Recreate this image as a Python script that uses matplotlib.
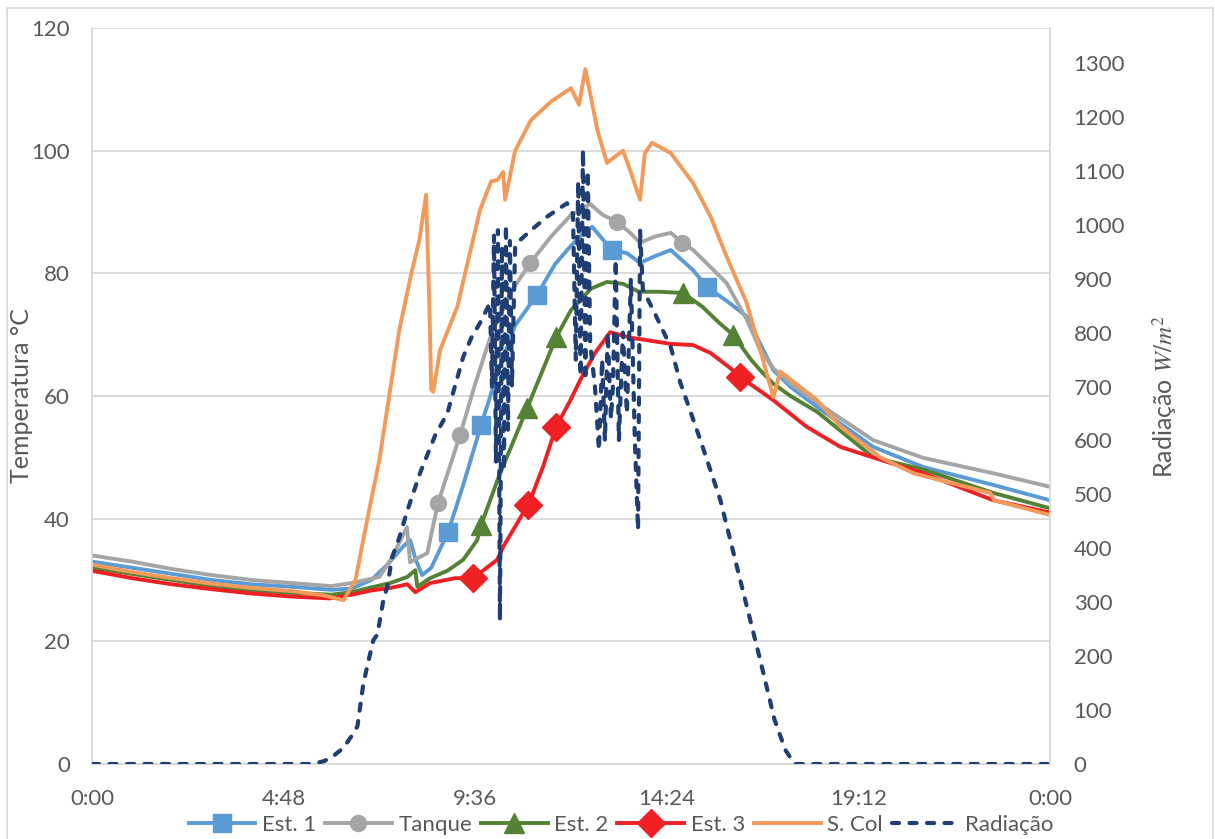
import numpy as np
import matplotlib
matplotlib.use("Agg")
import matplotlib.pyplot as plt
from matplotlib.patches import Rectangle

plt.rcParams['font.family'] = ['Lato', 'DejaVu Sans']
plt.rcParams['mathtext.fontset'] = 'stix'

# Data (hours of the day, temperature in °C, radiation in W/m2)
est1_h = [0, 1, 2, 3, 4, 5, 6, 6.5, 7.0, 7.4, 7.8, 7.97, 8.1, 8.27, 8.5, 8.92, 9.3, 9.75,
          10.2, 10.6, 11.15, 11.6, 12.0, 12.3, 12.53, 12.8, 13.03, 13.4, 13.73, 14.1, 14.5,
          15.06, 15.4, 15.9, 16.4, 16.74, 17.07, 17.5, 18.17, 19.57, 20.83, 22.58, 24]
est1_t = [33.0, 32.0, 31.0, 30.0, 29.3, 28.9, 28.4, 28.6, 30.0, 32.5, 35.5, 36.5, 33.5, 30.8,
          32.0, 37.8, 45.5, 55.3, 64.5, 71.5, 76.5, 81.5, 84.5, 86.5, 87.6, 85.5, 83.8, 83.3,
          81.7, 82.8, 83.8, 80.5, 77.8, 75.5, 73.0, 68.5, 64.2, 61.5, 58.2, 51.7, 48.4, 45.5, 43.0]
est1_mk = [8.92, 9.75, 11.15, 13.03, 15.4]

tanque_h = [0, 1, 2, 3, 4, 5, 6, 6.5, 7.0, 7.2, 7.5, 7.89, 7.97, 8.4, 8.67, 9.22, 9.6, 10.0,
            10.5, 10.98, 11.5, 12.0, 12.48, 12.8, 13.16, 13.5, 13.73, 14.1, 14.5, 14.79, 15.06,
            15.5, 15.9, 16.4, 16.74, 17.07, 17.5, 18.17, 19.57, 20.83, 22.58, 24]
tanque_t = [34.0, 33.0, 31.8, 30.8, 30.0, 29.5, 29.0, 29.5, 30.2, 30.5, 33.5, 38.6, 32.9, 34.4,
            42.6, 53.6, 62.0, 70.0, 77.0, 81.7, 86.0, 89.5, 91.3, 89.5, 88.4, 86.5, 85.0, 86.0,
            86.6, 85.0, 83.8, 81.0, 78.4, 72.5, 67.5, 64.5, 62.0, 58.9, 52.8, 49.9, 47.4, 45.2]
tanque_mk = [8.67, 9.22, 10.98, 13.16, 14.79]

est2_h = [0, 1, 2, 3, 4, 5, 6, 6.5, 7.0, 7.47, 7.9, 8.1, 8.15, 8.47, 8.9, 9.3, 9.65, 9.75,
          10.2, 10.9, 11.63, 12.0, 12.5, 12.9, 13.3, 13.7, 14.2, 14.81, 15.3, 15.7, 16.06,
          16.5, 16.74, 17.07, 17.5, 18.17, 19.57, 20.83, 22.58, 24]
est2_t = [32.0, 31.0, 30.0, 29.0, 28.3, 27.9, 27.6, 28.0, 28.8, 29.5, 30.5, 31.6, 28.9, 30.3,
          31.5, 33.3, 36.5, 39.0, 47.0, 58.0, 69.6, 74.0, 77.5, 78.6, 78.3, 77.0, 77.0, 76.8,
          74.5, 72.0, 70.0, 66.0, 64.2, 62.0, 60.0, 57.4, 50.0, 48.0, 44.2, 41.7]
est2_mk = [9.75, 10.9, 11.63, 14.81, 16.06]

est3_h = [0, 1, 2, 3, 4, 5, 5.96, 6.5, 7.0, 7.47, 7.9, 8.1, 8.47, 9.1, 9.55, 10.15, 10.3,
          10.8, 10.93, 11.3, 11.63, 12.0, 12.23, 12.6, 12.98, 13.5, 14.0, 14.5, 15.06, 15.5,
          16.0, 16.24, 16.7, 17.07, 17.9, 18.75, 19.75, 20.83, 22.58, 24]
est3_t = [31.5, 30.3, 29.3, 28.5, 27.8, 27.3, 27.0, 27.6, 28.3, 28.7, 29.3, 28.0, 29.5, 30.3,
          30.3, 33.3, 35.4, 40.9, 42.2, 48.5, 55.0, 59.5, 62.6, 67.0, 70.4, 69.5, 69.0, 68.5,
          68.3, 67.0, 64.5, 63.1, 61.0, 59.3, 55.0, 51.7, 49.6, 47.4, 43.0, 41.0]
est3_mk = [9.55, 10.93, 11.63, 16.24]

scol_h = [0, 1, 2, 3, 4, 5, 5.8, 6.3, 6.6, 6.9, 7.2, 7.7, 8.0, 8.2, 8.37, 8.45, 8.5, 8.55,
          8.72, 9.15, 9.72, 10.0, 10.15, 10.3, 10.35, 10.6, 11.0, 11.5, 12.0, 12.2, 12.36,
          12.66, 12.9, 13.3, 13.45, 13.73, 13.85, 14.03, 14.5, 15.06, 15.5, 15.9, 16.4, 16.74,
          17.07, 17.24, 18.17, 18.75, 19.75, 20.58, 22.5, 22.6, 24]
scol_t = [32.5, 31.3, 30.3, 29.4, 28.7, 28.2, 27.5, 26.7, 30.0, 40.0, 49.6, 70.8, 80.0, 85.4,
          92.8, 75.0, 61.0, 60.7, 67.5, 74.5, 90.3, 95.0, 95.2, 96.5, 92.0, 100.0, 105.0, 108.0,
          110.2, 107.5, 113.3, 103.4, 98.0, 100.0, 97.4, 92.0, 99.6, 101.3, 99.6, 94.7, 89.2,
          82.7, 75.2, 67.5, 59.8, 64.0, 59.3, 55.0, 50.0, 47.4, 44.2, 43.0, 40.6]

rad_h = [0, 5.5, 5.8, 6.0, 6.3, 6.55, 6.65, 6.8, 6.97, 7.05, 7.15, 7.3, 7.4, 7.52, 7.7, 7.9,
         8.22, 8.6, 8.9, 9.3, 9.5, 9.72, 9.97, 10.02, 10.07, 10.12, 10.17, 10.22, 10.27, 10.32,
         10.37, 10.42, 10.47, 10.52, 10.6, 10.73, 11.0, 11.4, 11.7, 11.9, 12.05, 12.12, 12.18,
         12.24, 12.3, 12.36, 12.42, 12.48, 12.6, 12.7, 12.78, 12.85, 12.92, 13.0, 13.05, 13.12,
         13.2, 13.3, 13.4, 13.5, 13.6, 13.68, 13.73, 13.8, 14.06, 14.5, 14.74, 15.24, 15.74,
         16.24, 16.74, 17.1, 17.37, 17.6, 24]
rad_w = [0, 0, 5, 12, 30, 57, 70, 150, 205, 230, 240, 304, 330, 384, 420, 470,
         540, 610, 650, 755, 790, 818, 855, 700, 980, 560, 990, 267, 960, 545,
         1000, 620, 970, 700, 960, 972, 990, 1015, 1030, 1040, 1020, 750, 1080,
         720, 1139, 712, 1100, 780, 700, 582, 750, 600, 800, 640, 700, 935,
         600, 800, 650, 900, 600, 434, 990, 880, 842, 773, 707, 601, 490,
         341, 193, 82, 26, 0, 0]

x_ticks = [0, 4.8, 9.6, 14.4, 19.2, 24]
x_labels = ["0:00", "4:48", "9:36", "14:24", "19:12", "0:00"]

grey = "#595959"
W, H = 1215, 839
fig = plt.figure(figsize=(W / 100, H / 100), dpi=100)
fig.patches.append(Rectangle((7 / W, -0.02), 1206 / W, 1 - 8 / H + 0.02,
                             transform=fig.transFigure, fill=False,
                             edgecolor="#D9D9D9", lw=1.2))

ax = fig.add_axes([92 / W, 1 - 764 / H, (1050 - 92) / W, (764 - 28) / H])
ax2 = ax.twinx()

LW = 2.8
rad_dash = (0, (1.7, 2.5))

series = [
    ("Est. 1", est1_h, est1_t, est1_mk, "#5B9BD5", "s", 13),
    ("Tanque", tanque_h, tanque_t, tanque_mk, "#A5A5A5", "o", 11.5),
    ("Est. 2", est2_h, est2_t, est2_mk, "#548235", "^", 15),
    ("Est. 3", est3_h, est3_t, est3_mk, "#EE2024", "D", 14),
]
handles = []
for name, h, t, mk, col, m, ms in series:
    ax.plot(h, t, color=col, lw=LW, solid_joinstyle="round")
    ax.plot(mk, np.interp(mk, h, t), ls="none", marker=m, ms=ms,
            color=col, mec=col)
    handles.append(plt.Line2D([], [], color=col, lw=LW, marker=m, ms=ms, mec=col))

ax.plot(scol_h, scol_t, color="#F39A5A", lw=LW, solid_joinstyle="round")
handles.append(plt.Line2D([], [], color="#F39A5A", lw=LW))

ax2.plot(rad_h, rad_w, color="#1F3E74", lw=3.0, ls=rad_dash,
         dash_capstyle="round")
handles.append(plt.Line2D([], [], color="#1F3E74", lw=3.0, ls=rad_dash,
                          dash_capstyle="round"))

ax.set_xlim(0, 24)
ax.set_ylim(0, 120)
ax.set_yticks(range(0, 121, 20))
ax.set_xticks(x_ticks)
ax.set_xticklabels(x_labels)
ax2.set_ylim(0, 1365)
ax2.set_yticks(range(0, 1301, 100))

ax.grid(axis="y", color="#D9D9D9", lw=1.3)
ax.set_axisbelow(True)
for a in (ax, ax2):
    for s in a.spines.values():
        s.set_visible(False)
    a.tick_params(length=0, labelsize=16, labelcolor=grey)
for a, side in ((ax, "left"), (ax, "bottom"), (ax2, "right")):
    a.spines[side].set_visible(True)
    a.spines[side].set_color("#D9D9D9")
    a.spines[side].set_linewidth(1.3)
ax.tick_params(axis="y", pad=16)
ax.tick_params(axis="x", pad=18)
ax2.tick_params(axis="y", pad=17)

ax.set_ylabel("Temperatura °C", fontsize=18, color=grey)
ax.yaxis.set_label_coords(-0.0616, 0.5)
ax2.set_ylabel(r"Radiação $W/m^2$", fontsize=18, color=grey)
ax2.yaxis.set_label_coords(1.104, 0.5)

labels = ["Est. 1", "Tanque", "Est. 2", "Est. 3", "S. Col", "Radiação"]
fig.legend(handles, labels, loc="center", bbox_to_anchor=(621 / W, 1 - 825 / H),
           ncol=6, frameon=False, fontsize=16, handlelength=3.0,
           handletextpad=0.3, columnspacing=0.4, labelcolor=grey, numpoints=1)

fig.savefig("out.png", dpi=100)
